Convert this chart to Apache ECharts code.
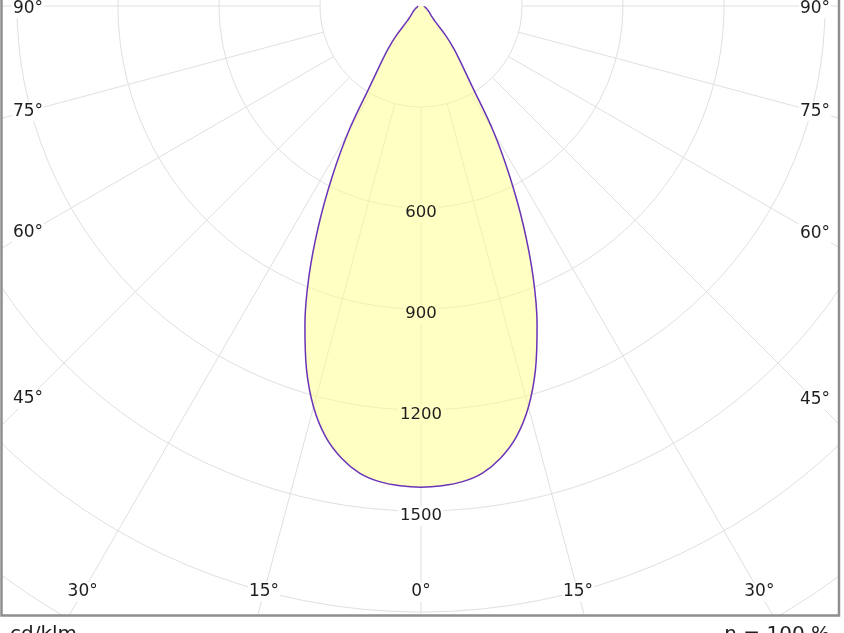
<!DOCTYPE html>
<html>
<head>
<meta charset="utf-8">
<title>Lichtstärkeverteilung</title>
<script src="https://cdn.jsdelivr.net/npm/echarts@6/dist/echarts.min.js"></script>
<style>
  html, body { margin: 0; padding: 0; background: #fff; }
  #chart { width: 844px; height: 633px; }
</style>
</head>
<body>
<div id="chart"></div>
<script>
// C0-C180 plane, symmetric: intensity read every 2.5 deg from nadir (0) to horizontal (90)
var angles = [0, 2.5, 5, 7.5, 10, 12.5, 15, 17.5, 20, 22.5, 25, 27.5, 30, 32.5, 35, 37.5, 40, 42.5, 45,
  47.5, 50, 52.5, 55, 57.5, 60, 62.5, 65, 67.5, 70, 72.5, 75, 77.5, 80, 82.5, 85, 87.5, 90];
var intensity = [1429, 1426, 1418, 1399, 1363, 1310, 1233, 1131, 1008, 870, 720, 571, 431, 282, 209, 162, 113, 62, 48,
  40, 35, 31, 28, 25, 22, 20, 18, 16, 15, 13, 12, 11, 10, 10, 9, 9, 9];
var ringLabels = [600, 900, 1200, 1500];
var angleLabels = [0, 15, 30, 45, 60, 75, 90];
var unitText = 'cd/klm';
var effText = 'η = 100 %';

var cx = 421, cy = 6;          // centre of the diagram
var pxPerCd = 0.3367;
var rMax = 2400, ringStep = 300;
var fillOnWhite = '#FFFEC3';
var fontFamily = '"DejaVu Sans", Verdana, sans-serif';

var chartDom = document.getElementById('chart');
var myChart = echarts.init(chartDom);

// curve data: left half (positive) then right half (negative) -> [radius, angle]
var curve = [];
for (var i = angles.length - 1; i >= 0; i--) curve.push([intensity[i], angles[i]]);
for (var j = 1; j < angles.length; j++) curve.push([intensity[j], -angles[j]]);

var ringData = ringLabels.map(function (v) {
  return {
    value: [v, 0],
    label: { backgroundColor: v < intensity[0] ? fillOnWhite : '#fff' }
  };
});

// angle labels sit on their ray, inside the frame
var inset = { left: 28, right: 815, bottom: 592 };
var graphics = [];
angleLabels.forEach(function (a) {
  var sides = a === 0 ? [1] : [1, -1];
  sides.forEach(function (s) {
    var rad = a * Math.PI / 180;
    var sx = Math.sin(rad), cyDir = Math.cos(rad);
    var tSide = sx > 1e-6 ? (s > 0 ? (cx - inset.left) : (inset.right - cx)) / sx : Infinity;
    var tBot = cyDir > 1e-6 ? (inset.bottom - cy) / cyDir : Infinity;
    var t = Math.min(tSide, tBot);
    var px = cx - s * sx * t;
    var py = Math.max(cy + cyDir * t, 8.5);
    graphics.push({
      type: 'text', z: 50, x: px, y: py,
      style: {
        text: a + '°', font: '17px ' + fontFamily, fill: '#1e1e1e',
        textAlign: 'center', textVerticalAlign: 'middle',
        backgroundColor: '#fff', padding: [1, 1]
      }
    });
  });
});

// white out what lies outside the frame, then the frame itself
graphics.push(
  { type: 'rect', z: 90, shape: { x: 0, y: 617, width: 844, height: 20 }, style: { fill: '#fff' } },
  { type: 'rect', z: 90, shape: { x: 840, y: 0, width: 10, height: 633 }, style: { fill: '#fff' } },
  { type: 'rect', z: 91, shape: { x: 1.5, y: -10, width: 837.5, height: 625.5 },
    style: { fill: null, stroke: '#8f8f8f', lineWidth: 2.5 } },
  { type: 'text', z: 92, x: 10, y: 625,
    style: { text: unitText, font: '20px ' + fontFamily, fill: '#1e1e1e', textAlign: 'left', textVerticalAlign: 'top' } },
  { type: 'text', z: 92, x: 830, y: 625,
    style: { text: effText, font: '20px ' + fontFamily, fill: '#1e1e1e', textAlign: 'right', textVerticalAlign: 'top' } }
);

var angleAxisBase = {
  type: 'value', min: -180, max: 180, interval: 15,
  startAngle: 90, clockwise: true
};

var option = {
  backgroundColor: '#fff',
  animation: false,
  polar: [
    // grid: rings and rays start at the 300 ring
    { center: [cx, cy], radius: [ringStep * pxPerCd, rMax * pxPerCd] },
    // data
    { center: [cx, cy], radius: [0, rMax * pxPerCd] }
  ],
  angleAxis: [
    Object.assign({}, angleAxisBase, {
      polarIndex: 0,
      axisLine: { show: false }, axisTick: { show: false }, axisLabel: { show: false },
      splitLine: { show: true, lineStyle: { color: '#e0e0e0', width: 1 } }
    }),
    Object.assign({}, angleAxisBase, {
      polarIndex: 1, show: false
    })
  ],
  radiusAxis: [
    {
      polarIndex: 0, type: 'value', min: ringStep, max: rMax, interval: ringStep,
      axisLine: { show: false }, axisTick: { show: false }, axisLabel: { show: false },
      splitLine: { show: true, lineStyle: { color: '#e0e0e0', width: 1 } }
    },
    {
      polarIndex: 1, type: 'value', min: 0, max: rMax, show: false,
      splitLine: { show: false }
    }
  ],
  series: [
    {
      type: 'line',
      coordinateSystem: 'polar',
      polarIndex: 1,
      data: curve,
      showSymbol: false,
      symbol: 'none',
      smooth: 0.35,
      lineStyle: { color: '#6b34b8', width: 1.5 },
      areaStyle: { color: 'rgba(255,253,140,0.52)', opacity: 1 },
      z: 2
    },
    {
      type: 'scatter',
      coordinateSystem: 'polar',
      polarIndex: 1,
      data: ringData,
      symbolSize: 0,
      itemStyle: { opacity: 1, color: 'transparent' },
      z: 5,
      label: {
        show: true, position: 'inside', offset: [0, 5],
        formatter: function (p) { return p.value[0]; },
        fontFamily: fontFamily, fontSize: 16.5,
        color: '#1e1e1e', opacity: 1, padding: [1, 2]
      }
    }
  ],
  graphic: graphics
};

myChart.setOption(option);
window.addEventListener('resize', function () {
  myChart.resize();
});
</script>
</body>
</html>
